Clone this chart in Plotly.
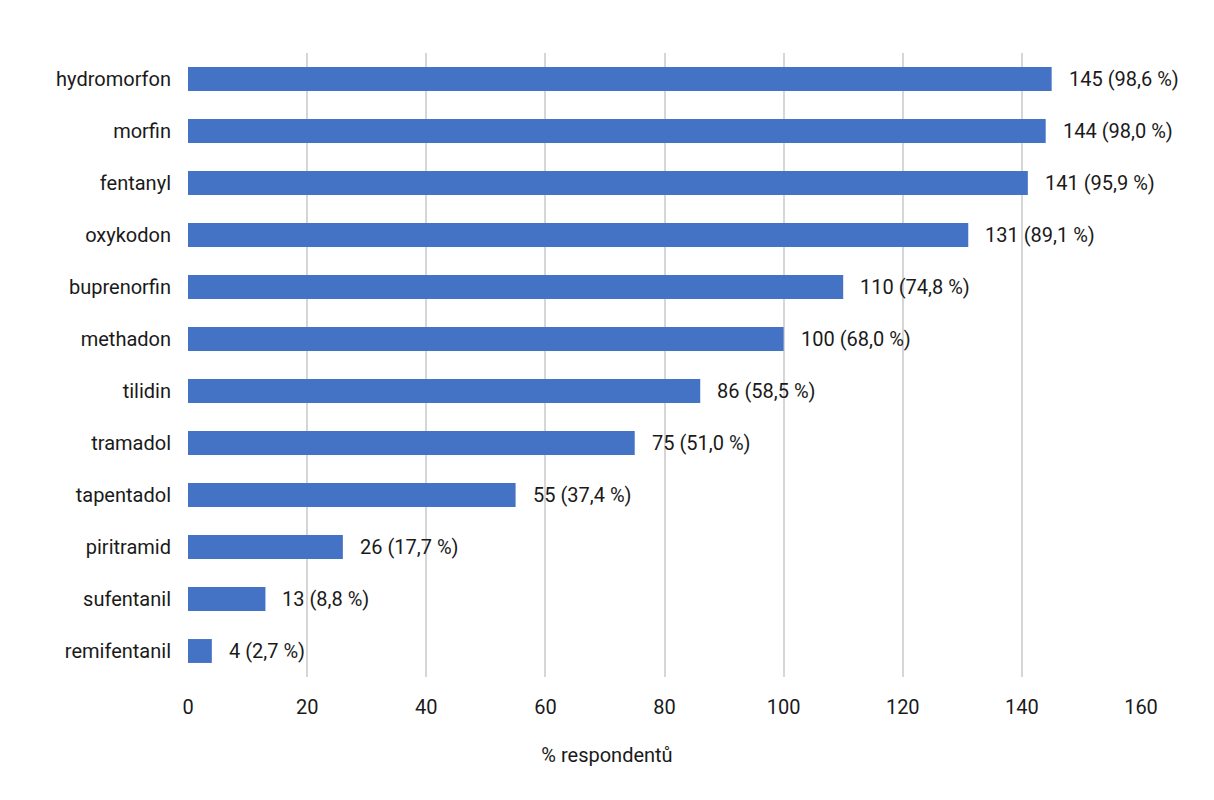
import plotly.graph_objects as go

drugs = ['hydromorfon', 'morfin', 'fentanyl', 'oxykodon', 'buprenorfin', 'methadon',
         'tilidin', 'tramadol', 'tapentadol', 'piritramid', 'sufentanil', 'remifentanil']
counts = [145, 144, 141, 131, 110, 100, 86, 75, 55, 26, 13, 4]
percents = ['98,6', '98,0', '95,9', '89,1', '74,8', '68,0', '58,5', '51,0', '37,4', '17,7', '8,8', '2,7']
x_ticks = [0, 20, 40, 60, 80, 100, 120, 140, 160]

labels = [f"{c} ({p} %)" for c, p in zip(counts, percents)]

fnt = dict(family='Roboto', size=20, color='#1a1a1a')

fig = go.Figure()

fig.add_trace(go.Bar(
    x=counts,
    y=drugs,
    orientation='h',
    width=0.46,
    marker=dict(color='#4472C4', line=dict(width=0)),
    hoverinfo='skip',
))

# value labels placed a bit right of each bar end
for d, c, lab in zip(drugs, counts, labels):
    fig.add_annotation(
        x=c, y=d, text=lab, showarrow=False,
        xanchor='left', xshift=15,
        font=fnt,
    )

# axis title is centred on the whole chart, not on the plot area
fig.update_layout(
    width=1214, height=800,
    margin=dict(l=180, r=81, t=45, b=131),
    plot_bgcolor='white',
    paper_bgcolor='white',
    showlegend=False,
    font=fnt,
    title=dict(text='% respondentů', font=fnt, xref='container', yref='container',
               x=0.4934, xanchor='center', y=0.066, yanchor='middle'),
)

fig.update_xaxes(
    range=[0, 160],
    tickvals=x_ticks,
    showgrid=True,
    gridcolor='#d6d6d6',
    gridwidth=2,
    zeroline=False,
    showline=False,
    ticks='',
    ticklabelstandoff=16,
    tickfont=fnt,
)

fig.update_yaxes(
    categoryorder='array',
    categoryarray=drugs[::-1],
    showgrid=False,
    zeroline=False,
    showline=False,
    ticks='',
    ticklabelstandoff=16,
    tickfont=fnt,
)

fig.write_html("out.html")
